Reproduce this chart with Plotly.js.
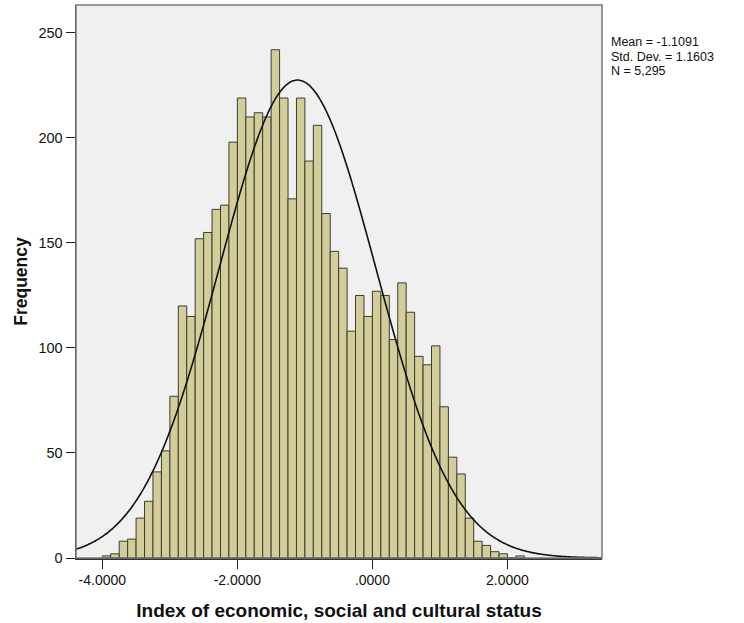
<!DOCTYPE html>
<html>
<head>
<meta charset="utf-8">
<script src="https://cdn.plot.ly/plotly-3.0.1.min.js"></script>
<style>
  html, body { margin: 0; padding: 0; background: #ffffff; }
  #chart { width: 744px; height: 623px; }
</style>
</head>
<body>
<div id="chart"></div>
<script>
// ---- Data ----
const binLeftEdges = [
  -4.000, -3.875, -3.750, -3.625, -3.500, -3.375, -3.250, -3.125, -3.000, -2.875,
  -2.750, -2.625, -2.500, -2.375, -2.250, -2.125, -2.000, -1.875, -1.750, -1.625,
  -1.500, -1.375, -1.250, -1.125, -1.000, -0.875, -0.750, -0.625, -0.500, -0.375,
  -0.250, -0.125,  0.000,  0.125,  0.250,  0.375,  0.500,  0.625,  0.750,  0.875,
   1.000,  1.125,  1.250,  1.375,  1.500,  1.625,  1.750,  1.875,  2.000,  2.125
];
const binWidth = 0.125;
const frequencies = [
  1, 2, 8, 9, 19, 27, 41, 51, 77, 120,
  115, 152, 155, 166, 168, 198, 219, 210, 212, 210,
  242, 219, 171, 219, 189, 206, 164, 146, 138, 108,
  125, 115, 127, 125, 104, 131, 117, 96, 92, 101,
  72, 48, 40, 19, 8, 6, 3, 2, 0, 1
];
const meanValue = -1.1091;
const stdDev = 1.1603;
const nCases = 5295;
const statLabels = ["Mean = -1.1091", "Std. Dev. = 1.1603", "N = 5,295"];
const xTickValues = [-4, -2, 0, 2];
const xTickLabels = ["-4.0000", "-2.0000", ".0000", "2.0000"];
const yTickValues = [0, 50, 100, 150, 200, 250];
const xRange = [-4.39, 3.40];
const yRange = [0, 263.3];

// bar centres from the bin edges
const binCenters = binLeftEdges.map(e => e + binWidth / 2);

// fitted normal curve (defined by the stated mean, std. dev. and N)
const curveX = [];
const curveY = [];
const steps = 400;
for (let i = 0; i <= steps; i++) {
  const x = xRange[0] + (xRange[1] - xRange[0]) * i / steps;
  const z = (x - meanValue) / stdDev;
  curveX.push(x);
  curveY.push(nCases * binWidth / (stdDev * Math.sqrt(2 * Math.PI)) * Math.exp(-0.5 * z * z));
}

const FONT = '"Liberation Sans", Arial, sans-serif';

const traces = [
  {
    type: 'bar',
    x: binCenters,
    y: frequencies,
    width: binWidth,
    marker: { color: '#d3ce99', line: { color: '#3c3c32', width: 1 } },
    hoverinfo: 'x+y',
    showlegend: false
  },
  {
    type: 'scatter',
    mode: 'lines',
    x: curveX,
    y: curveY,
    line: { color: '#111111', width: 1.6, shape: 'spline' },
    hoverinfo: 'skip',
    showlegend: false
  }
];

const statAnnotations = statLabels.map((t, i) => ({
  text: t,
  xref: 'paper', yref: 'paper',
  x: (610 - 76) / 526,
  y: (558 - (42 + i * 14.5)) / 553,
  xanchor: 'left', yanchor: 'middle',
  showarrow: false,
  borderpad: 0,
  font: { family: FONT, size: 12.5, color: '#111111' }
}));

const layout = {
  width: 744,
  height: 623,
  margin: { l: 76, r: 142, t: 5, b: 65 },
  paper_bgcolor: '#ffffff',
  plot_bgcolor: '#f0f0f0',
  bargap: 0,
  font: { family: FONT, color: '#111111' },
  xaxis: {
    range: xRange,
    tickvals: xTickValues,
    ticktext: xTickLabels,
    ticks: 'outside',
    ticklen: 9,
    tickcolor: '#222222',
    tickfont: { family: FONT, size: 14, color: '#111111' },
    showgrid: false,
    zeroline: false,
    showline: true,
    linecolor: '#333333',
    linewidth: 1.5,
    title: {
      text: 'Index of economic, social and cultural status',
      font: { family: FONT, size: 19, color: '#111111', weight: 'bold' },
      standoff: 16
    }
  },
  yaxis: {
    range: yRange,
    tickvals: yTickValues,
    ticks: 'outside',
    ticklen: 9,
    tickcolor: '#222222',
    tickfont: { family: FONT, size: 14.5, color: '#111111' },
    showgrid: false,
    zeroline: false,
    showline: true,
    linecolor: '#333333',
    linewidth: 1.5,
    title: {
      text: 'Frequency',
      font: { family: FONT, size: 17.5, color: '#111111', weight: 'bold' },
      standoff: 6
    }
  },
  shapes: [
    {
      type: 'rect', xref: 'paper', yref: 'paper',
      x0: 0, x1: 1, y0: 0, y1: 1,
      line: { color: '#777777', width: 1.5 },
      fillcolor: 'rgba(0,0,0,0)'
    }
  ],
  annotations: statAnnotations
};

Plotly.newPlot('chart', traces, layout, { displayModeBar: false, staticPlot: true });
</script>
</body>
</html>
